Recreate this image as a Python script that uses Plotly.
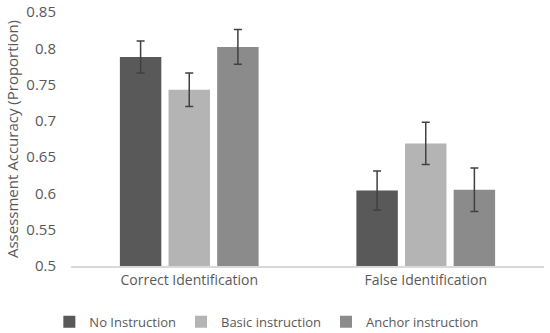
import plotly.graph_objects as go

categories = ["Correct Identification", "False Identification"]
series_names = ["No Instruction", "Basic instruction", "Anchor instruction"]
no_instr = [0.788, 0.604]
no_instr_err = [0.022, 0.027]
basic_instr = [0.743, 0.669]
basic_instr_err = [0.023, 0.029]
anchor_instr = [0.802, 0.605]
anchor_instr_err = [0.024, 0.030]
colors = ["#595959", "#b4b4b4", "#8b8b8b"]

fig = go.Figure()
for name, vals, errs, col in zip(series_names,
                                 [no_instr, basic_instr, anchor_instr],
                                 [no_instr_err, basic_instr_err, anchor_instr_err],
                                 colors):
    fig.add_trace(go.Bar(
        x=categories, y=vals, name=name, marker_color=col,
        marker_line_width=0,
        error_y=dict(type="data", array=errs, color="#404040", thickness=1.5, width=4),
    ))

fig.update_layout(
    width=550, height=333,
    margin=dict(l=71, r=6, t=12, b=67, autoexpand=False),
    paper_bgcolor="white", plot_bgcolor="white",
    barmode="group", bargap=0.383, bargroupgap=0.148,
    font=dict(family="Open Sans", color="#595959", size=13),
    showlegend=True,
    legend=dict(orientation="h", x=0.413, xanchor="center", y=-0.22, yanchor="middle",
                font=dict(size=13, color="#595959"), traceorder="normal"),
    xaxis=dict(showline=True, linecolor="#d9d9d9", linewidth=1.5, ticks="", automargin=False,
               tickfont=dict(size=14, color="#595959")),
    yaxis=dict(range=[0.5, 0.8501], dtick=0.05, showgrid=False, zeroline=False, automargin=False,
               showline=False, ticks="", ticklabelstandoff=14, ticklabeloverflow="allow",
               tickfont=dict(size=15, color="#595959"),
               title=dict(text="Assessment Accuracy (Proportion)", font=dict(size=15, color="#595959"),
                          standoff=4)),
)

fig.write_html("out.html", config={"displayModeBar": False},
               post_script="document.body.style.margin='0';document.body.style.overflow='hidden';")
